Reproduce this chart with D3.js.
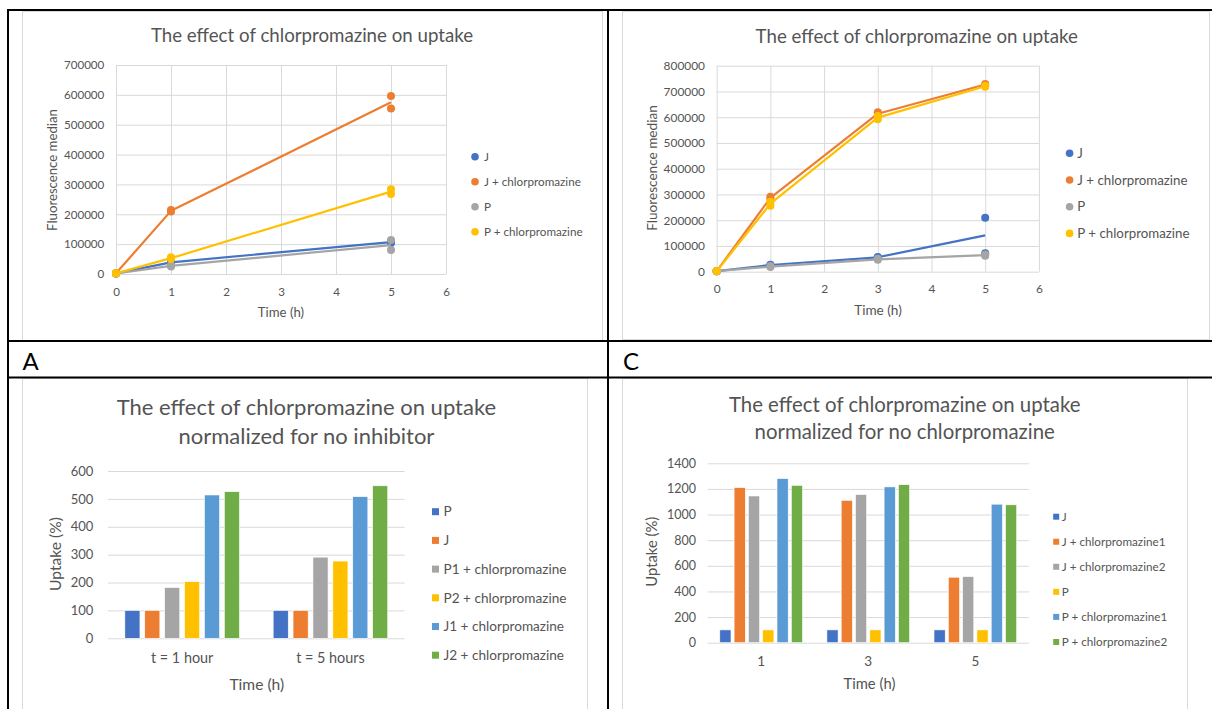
<!DOCTYPE html>
<html><head><meta charset="utf-8">
<script src="https://cdn.jsdelivr.net/npm/d3@7"></script>
<style>
html,body{margin:0;padding:0;background:#fff;}
svg{display:block;font-family:Lato,"Open Sans",sans-serif;}
</style></head><body>
<svg id="fig" width="1212" height="709"></svg>
<script>
// ---------- Time-course data (median fluorescence, two replicates per time point) ----------
const lineSeriesNames = ["J", "J + chlorpromazine", "P", "P + chlorpromazine"];
const lineColors = ["#4472C4", "#ED7D31", "#A5A5A5", "#FFC000"];

// Experiment A
const timesA = [0, 1, 5];
const aJ_rep1 = [1800, 38000, 104000];
const aJ_rep2 = [2200, 40000, 110000];
const aJc_rep1 = [2000, 209000, 596000];
const aJc_rep2 = [2400, 214000, 554000];
const aP_rep1 = [1500, 25000, 114000];
const aP_rep2 = [1900, 29000, 80000];
const aPc_rep1 = [2100, 56000, 284000];
const aPc_rep2 = [2600, 50000, 268000];
const yTicksA = [0, 100000, 200000, 300000, 400000, 500000, 600000, 700000];

// Experiment C
const timesC = [0, 1, 3, 5];
const cJ_rep1 = [2000, 25000, 55000, 210000];
const cJ_rep2 = [2500, 27000, 57000, 72000];
const cJc_rep1 = [2200, 291000, 619000, 729000];
const cJc_rep2 = [2600, 283000, 608000, 725000];
const cP_rep1 = [1800, 18000, 46000, 62000];
const cP_rep2 = [2100, 22000, 50000, 67000];
const cPc_rep1 = [1900, 272000, 605000, 722000];
const cPc_rep2 = [2300, 256000, 592000, 718000];
const yTicksC = [0, 100000, 200000, 300000, 400000, 500000, 600000, 700000, 800000];

const xTicksTime = [0, 1, 2, 3, 4, 5, 6];

// ---------- Normalized uptake (%) ----------
const barColors = ["#4472C4", "#ED7D31", "#A5A5A5", "#FFC000", "#5B9BD5", "#70AD47"];

// normalized for no inhibitor
const catsB = ["t = 1 hour", "t = 5 hours"];
const seriesB = ["P", "J", "P1 + chlorpromazine", "P2 + chlorpromazine", "J1 + chlorpromazine", "J2 + chlorpromazine"];
const bP = [100, 100];
const bJ = [100, 100];
const bP1c = [182, 291];
const bP2c = [203, 277];
const bJ1c = [514, 508];
const bJ2c = [526, 547];
const yTicksB = [0, 100, 200, 300, 400, 500, 600];

// normalized for no chlorpromazine
const catsD = ["1", "3", "5"];
const seriesD = ["J", "J + chlorpromazine1", "J + chlorpromazine2", "P", "P + chlorpromazine1", "P + chlorpromazine2"];
const dJ = [100, 100, 100];
const dJc1 = [1210, 1111, 511];
const dJc2 = [1145, 1156, 516];
const dP = [100, 100, 100];
const dPc1 = [1281, 1216, 1081];
const dPc2 = [1228, 1233, 1076];
const yTicksD = [0, 200, 400, 600, 800, 1000, 1200, 1400];

// ---------- drawing ----------
const GRID = "#d9d9d9";
const TXT = "#545454";
const svg = d3.select("#fig");

function chartFrame(x, y, w, h) {
  svg.append("rect").attr("x", x + 0.5).attr("y", y + 0.5).attr("width", w).attr("height", h)
    .attr("fill", "#fff").attr("stroke", GRID).attr("stroke-width", 1);
}

function plainAxis(sel) {
  sel.attr("font-family", null).attr("font-size", null);
  sel.select(".domain").remove();
}

function titleLines(g, cx, baselines, lines, size) {
  lines.forEach((t, i) => {
    g.append("text").attr("x", cx).attr("y", baselines[i]).attr("text-anchor", "middle")
      .attr("fill", TXT).style("font-size", size + "px").text(t);
  });
}

function lineChart(cfg, times, series) {
  const g = svg.append("g");
  const x = d3.scaleLinear().domain([0, 6]).range([cfg.left, cfg.right]);
  const y = d3.scaleLinear().domain([0, cfg.yTicks[cfg.yTicks.length - 1]]).range([cfg.bottom, cfg.top]);

  // gridlines
  g.append("g").attr("transform", `translate(0,${cfg.bottom})`)
    .call(d3.axisBottom(x).tickValues(xTicksTime).tickSize(-(cfg.bottom - cfg.top)).tickFormat(""))
    .call(plainAxis).selectAll("line").attr("stroke", GRID);
  g.append("g").attr("transform", `translate(${cfg.left},0)`)
    .call(d3.axisLeft(y).tickValues(cfg.yTicks).tickSize(-(cfg.right - cfg.left)).tickFormat(""))
    .call(plainAxis).selectAll("line").attr("stroke", GRID);

  // tick labels
  g.append("g").attr("transform", `translate(${cfg.left},0)`)
    .call(d3.axisLeft(y).tickValues(cfg.yTicks).tickSize(0).tickPadding(cfg.yPad).tickFormat(d3.format("d")))
    .call(plainAxis).selectAll("text").attr("fill", TXT).style("font-size", cfg.tickFont + "px");
  g.append("g").attr("transform", `translate(0,${cfg.bottom})`)
    .call(d3.axisBottom(x).tickValues(xTicksTime).tickSize(0).tickFormat(d3.format("d")))
    .call(plainAxis).selectAll("text").attr("fill", TXT).style("font-size", cfg.tickFont + "px")
    .attr("y", cfg.xLabOff).attr("dy", "0.35em");

  // series: line through replicate means, then replicate markers
  const line = d3.line().x(d => x(d.t)).y(d => y(d.v));
  series.forEach(s => {
    const means = times.map((t, i) => ({ t, v: (s.r1[i] + s.r2[i]) / 2 }));
    g.append("path").datum(means).attr("d", line).attr("fill", "none")
      .attr("stroke", s.color).attr("stroke-width", 2.2).attr("stroke-linejoin", "round");
    const pts = times.flatMap((t, i) => [{ t, v: s.r1[i] }, { t, v: s.r2[i] }]);
    g.selectAll(null).data(pts).join("circle")
      .attr("cx", d => x(d.t)).attr("cy", d => y(d.v)).attr("r", 4).attr("fill", s.color);
  });

  // titles
  titleLines(g, cfg.titleX, [cfg.titleY], ["The effect of chlorpromazine on uptake"], cfg.titleFont);
  g.append("text").attr("x", cfg.xTitleX).attr("y", cfg.xTitleY).attr("text-anchor", "middle")
    .attr("dy", "0.35em").attr("fill", TXT).style("font-size", cfg.axisFont + "px").text("Time (h)");
  g.append("text").attr("transform", `translate(${cfg.yTitleX},${cfg.yTitleY}) rotate(-90)`)
    .attr("text-anchor", "middle").attr("dy", "0.35em").attr("fill", TXT)
    .style("font-size", cfg.axisFont + "px").text("Fluorescence median");

  // legend
  series.forEach((s, i) => {
    const ly = cfg.legY + i * cfg.legStep;
    g.append("circle").attr("cx", cfg.legX).attr("cy", ly).attr("r", 3.8).attr("fill", s.color);
    g.append("text").attr("x", cfg.legTextX).attr("y", ly).attr("dy", "0.35em").attr("fill", TXT)
      .style("font-size", cfg.legFont + "px").text(s.name);
  });
}

function barChart(cfg, cats, names, values) {
  const g = svg.append("g");
  const x0 = d3.scaleBand().domain(cats).range([cfg.left, cfg.right]);
  const x1 = d3.scaleBand().domain(names).range([0, x0.bandwidth()])
    .paddingInner(cfg.padInner).paddingOuter(cfg.padOuter);
  const y = d3.scaleLinear().domain([0, cfg.yTicks[cfg.yTicks.length - 1]]).range([cfg.bottom, cfg.top]);

  g.append("g").attr("transform", `translate(${cfg.left},0)`)
    .call(d3.axisLeft(y).tickValues(cfg.yTicks).tickSize(-(cfg.right - cfg.left)).tickFormat(""))
    .call(plainAxis).selectAll("line").attr("stroke", GRID);
  g.append("g").attr("transform", `translate(${cfg.left},0)`)
    .call(d3.axisLeft(y).tickValues(cfg.yTicks).tickSize(0).tickPadding(cfg.yPad).tickFormat(d3.format("d")))
    .call(plainAxis).selectAll("text").attr("fill", TXT).style("font-size", cfg.tickFont + "px");
  g.append("g").attr("transform", `translate(0,${cfg.bottom})`)
    .call(d3.axisBottom(x0).tickSize(0))
    .call(plainAxis).selectAll("text").attr("fill", TXT).style("font-size", cfg.catFont + "px")
    .attr("y", cfg.xLabOff).attr("dy", "0.35em");

  names.forEach((n, si) => {
    g.selectAll(null).data(cats.map((c, ci) => ({ c, v: values[si][ci] }))).join("rect")
      .attr("x", d => x0(d.c) + x1(n)).attr("width", x1.bandwidth())
      .attr("y", d => y(d.v)).attr("height", d => y(0) - y(d.v))
      .attr("fill", cfg.colors[si]).attr("stroke", "#fff").attr("stroke-width", 0.6);
  });

  titleLines(g, cfg.titleX, cfg.titleY, cfg.title, cfg.titleFont);
  g.append("text").attr("x", cfg.xTitleX).attr("y", cfg.xTitleY).attr("text-anchor", "middle")
    .attr("dy", "0.35em").attr("fill", TXT).style("font-size", cfg.axisFont + "px").text("Time (h)");
  g.append("text").attr("transform", `translate(${cfg.yTitleX},${cfg.yTitleY}) rotate(-90)`)
    .attr("text-anchor", "middle").attr("dy", "0.35em").attr("fill", TXT)
    .style("font-size", cfg.axisFont + "px").text("Uptake (%)");

  names.forEach((n, i) => {
    const ly = cfg.legY + i * cfg.legStep;
    g.append("rect").attr("x", cfg.legX - cfg.legSq / 2).attr("y", ly - cfg.legSq / 2)
      .attr("width", cfg.legSq).attr("height", cfg.legSq).attr("fill", cfg.colors[i]);
    g.append("text").attr("x", cfg.legTextX).attr("y", ly).attr("dy", "0.35em").attr("fill", TXT)
      .style("font-size", cfg.legFont + "px").text(n);
  });
}

// chart frames
chartFrame(22, 11, 580, 329);
chartFrame(622, 11, 587, 328);
chartFrame(22, 378, 565, 340);
chartFrame(622, 378, 565, 340);

lineChart({
  left: 116, right: 446, top: 65, bottom: 274, yTicks: yTicksA, yPad: 11.7, xLabOff: 17.7,
  tickFont: 11.6, titleFont: 18.7, axisFont: 13.2, legFont: 11.7,
  titleX: 312, titleY: 42, xTitleX: 281, xTitleY: 312, yTitleX: 52, yTitleY: 170,
  legX: 475, legTextX: 484, legY: 156.7, legStep: 25
}, timesA, [
  { name: lineSeriesNames[0], color: lineColors[0], r1: aJ_rep1, r2: aJ_rep2 },
  { name: lineSeriesNames[1], color: lineColors[1], r1: aJc_rep1, r2: aJc_rep2 },
  { name: lineSeriesNames[2], color: lineColors[2], r1: aP_rep1, r2: aP_rep2 },
  { name: lineSeriesNames[3], color: lineColors[3], r1: aPc_rep1, r2: aPc_rep2 }
]);

lineChart({
  left: 716.7, right: 1038.9, top: 65.7, bottom: 271.7, yTicks: yTicksC, yPad: 11.7, xLabOff: 17.6,
  tickFont: 11.9, titleFont: 18.7, axisFont: 13.6, legFont: 13.3,
  titleX: 916.7, titleY: 42.5, xTitleX: 878, xTitleY: 310.7, yTitleX: 652, yTitleY: 168,
  legX: 1069.6, legTextX: 1077.3, legY: 153.3, legStep: 26.7
}, timesC, [
  { name: lineSeriesNames[0], color: lineColors[0], r1: cJ_rep1, r2: cJ_rep2 },
  { name: lineSeriesNames[1], color: lineColors[1], r1: cJc_rep1, r2: cJc_rep2 },
  { name: lineSeriesNames[2], color: lineColors[2], r1: cP_rep1, r2: cP_rep2 },
  { name: lineSeriesNames[3], color: lineColors[3], r1: cPc_rep1, r2: cPc_rep2 }
]);

barChart({
  left: 108, right: 404.6, top: 471, bottom: 638.3, yTicks: yTicksB, yPad: 14.6, xLabOff: 20,
  padInner: 0.241, padOuter: 0.847, colors: barColors,
  tickFont: 13, catFont: 14.4, titleFont: 22, axisFont: 15.6, legFont: 13.6,
  title: ["The effect of chlorpromazine on uptake", "normalized for no inhibitor"],
  titleX: 306.4, titleY: [415, 444], xTitleX: 256.8, xTitleY: 684.3, yTitleX: 56, yTitleY: 554,
  legX: 435.5, legTextX: 443.5, legY: 511.7, legStep: 28.7, legSq: 7
}, catsB, seriesB, [bP, bJ, bP1c, bP2c, bJ1c, bJ2c]);

barChart({
  left: 707.6, right: 1028.9, top: 463.3, bottom: 642.7, yTicks: yTicksD, yPad: 11.6, xLabOff: 19,
  padInner: 0.217, padOuter: 0.853, colors: barColors,
  tickFont: 12.5, catFont: 13.5, titleFont: 20.4, axisFont: 14.8, legFont: 11.7,
  title: ["The effect of chlorpromazine on uptake", "normalized for no chlorpromazine"],
  titleX: 904.7, titleY: [412, 439], xTitleX: 869.4, xTitleY: 684.3, yTitleX: 652.2, yTitleY: 551.7,
  legX: 1056.2, legTextX: 1061.8, legY: 516.7, legStep: 25.05, legSq: 6
}, catsD, seriesD, [dJ, dJc1, dJc2, dP, dPc1, dPc2]);

// table rules and panel labels
const rules = [
  [7, 10, 1212, 10], [7, 341, 1212, 341], [7, 377.5, 1212, 377.5],
  [8, 9, 8, 709], [608, 9, 608, 709]
];
svg.selectAll(null).data(rules).join("line")
  .attr("x1", d => d[0]).attr("y1", d => d[1]).attr("x2", d => d[2]).attr("y2", d => d[3])
  .attr("stroke", "#000").attr("stroke-width", 2);
svg.append("text").attr("x", 22.5).attr("y", 370).style("font-size", "24px").attr("fill", "#000").text("A");
svg.append("text").attr("x", 623).attr("y", 370).style("font-size", "24px").attr("fill", "#000").text("C");
</script>
</body></html>
